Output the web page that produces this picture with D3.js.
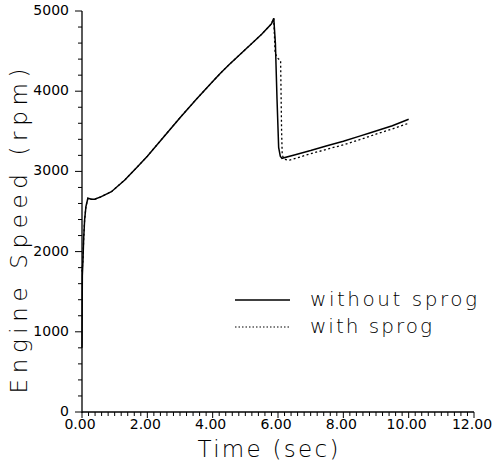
<!DOCTYPE html>
<html><head><meta charset="utf-8">
<script src="https://cdn.jsdelivr.net/npm/d3@7"></script>
<style>body{margin:0;background:#fff}svg{display:block}text{font-family:"DejaVu Sans",sans-serif;fill:#000}</style>
</head><body><svg id="c" width="494" height="464"></svg>
<script>
const withoutSprogT   = [0, 0.01, 0.03, 0.05, 0.08, 0.12, 0.18, 0.29, 0.39, 0.59, 0.9, 1.31, 1.72, 2.0, 2.5, 3.0, 3.5, 4.0, 4.23, 4.5, 5.0, 5.5, 5.8, 5.87, 5.92, 5.97, 6.02, 6.07, 6.12, 6.5, 7.0, 7.5, 8.0, 8.5, 8.83, 9.5, 10.0];
const withoutSprogRpm = [800, 1700, 1900, 2150, 2394, 2560, 2665, 2652, 2652, 2685, 2747, 2893, 3067, 3190, 3430, 3670, 3900, 4120, 4220, 4330, 4520, 4710, 4840, 4910, 4600, 3900, 3300, 3190, 3163, 3205, 3260, 3320, 3375, 3440, 3483, 3570, 3650];
const withSprogT   = [0, 0.01, 0.03, 0.05, 0.08, 0.12, 0.18, 0.29, 0.39, 0.59, 0.9, 1.31, 1.72, 2.0, 2.5, 3.0, 3.5, 4.0, 4.23, 4.5, 5.0, 5.5, 5.8, 5.87, 5.91, 5.95, 6.02, 6.08, 6.11, 6.13, 6.2, 6.35, 7.0, 7.6, 8.0, 8.5, 9.0, 9.5, 10.0];
const withSprogRpm = [1750, 1800, 1900, 2150, 2394, 2560, 2665, 2652, 2652, 2685, 2747, 2893, 3067, 3190, 3430, 3670, 3900, 4120, 4220, 4330, 4520, 4710, 4840, 4910, 4500, 4430, 4400, 4380, 3500, 3200, 3150, 3140, 3220, 3288, 3330, 3395, 3465, 3530, 3600];
const xTickLabels = ["0.00","2.00","4.00","6.00","8.00","10.00","12.00"];
const yTickLabels = ["0","1000","2000","3000","4000","5000"];
const seriesNames = ["without sprog","with sprog"];

const svg = d3.select("#c");
const x = d3.scaleLinear().domain([0,12]).range([82,474]);
const y = d3.scaleLinear().domain([0,5000]).range([412,11]);

svg.append("line").attr("x1",x(0)).attr("x2",x(0)).attr("y1",y(0)+1).attr("y2",y(5000)).attr("stroke","#000").attr("stroke-width",1.3);
svg.append("line").attr("x1",x(0)).attr("x2",x(12)).attr("y1",y(0)).attr("y2",y(0)).attr("stroke","#000").attr("stroke-width",1.3);

const xMinor = d3.range(0, 60.5, 1).map(i => i*0.2);
svg.append("g").selectAll("line").data(xMinor).join("line")
  .attr("x1",d=>x(d)).attr("x2",d=>x(d))
  .attr("y1",y(0)).attr("y2",(d,i)=> y(0) + (i%10===0 ? 6 : 4))
  .attr("stroke","#000").attr("stroke-width",1);
svg.append("g").selectAll("text").data(xTickLabels).join("text")
  .attr("x",(d)=>x(+d)-2).attr("y",429)
  .attr("text-anchor","middle").attr("font-size",14)
  .text(d=>d);

const yMinor = d3.range(0, 25.5, 1).map(i => i*200);
svg.append("g").selectAll("line").data(yMinor).join("line")
  .attr("x1",x(0)).attr("x2",(d,i)=> x(0) - (i%5===0 ? 7 : 4))
  .attr("y1",d=>y(d)).attr("y2",d=>y(d))
  .attr("stroke","#000").attr("stroke-width",1);
svg.append("g").selectAll("text").data(yTickLabels).join("text")
  .attr("x",69).attr("y",d=>y(+d)+4)
  .attr("text-anchor","end").attr("font-size",14)
  .text(d=>d);

svg.append("text").attr("x",268).attr("y",457).attr("text-anchor","middle")
  .attr("font-size",23).attr("font-weight",300)
  .attr("textLength",141).attr("lengthAdjust","spacing").text("Time  (sec)");
svg.append("text").attr("transform","translate(27,231) rotate(-90)").attr("text-anchor","middle")
  .attr("font-size",23).attr("font-weight",300)
  .attr("textLength",325).attr("lengthAdjust","spacing").text("Engine  Speed  (rpm)");

const line = d3.line().x(d=>x(d[0])).y(d=>y(d[1]));
const s1 = withoutSprogT.map((t,i)=>[t, withoutSprogRpm[i]]);
const s2 = withSprogT.map((t,i)=>[t, withSprogRpm[i]]);
svg.append("path").datum(s2).attr("d",line).attr("fill","none").attr("stroke","#000").attr("stroke-width",1.3).attr("stroke-dasharray","2,2.5");
svg.append("path").datum(s1).attr("d",line).attr("fill","none").attr("stroke","#000").attr("stroke-width",1.5);

const lg = svg.append("g");
const lys = [300, 327];
lg.selectAll("line").data(seriesNames).join("line")
  .attr("x1",235).attr("x2",290).attr("y1",(d,i)=>lys[i]).attr("y2",(d,i)=>lys[i])
  .attr("stroke","#000").attr("stroke-width",(d,i)=> i===0?1.5:1.2)
  .attr("stroke-dasharray",(d,i)=> i===0?null:"1.5,2");
lg.selectAll("text").data(seriesNames).join("text")
  .attr("x",310).attr("y",(d,i)=>lys[i]+6)
  .attr("font-size",20).attr("font-weight",300)
  .attr("textLength",(d,i)=> i===0?167:122).attr("lengthAdjust","spacing")
  .text(d=>d);
</script></body></html>
